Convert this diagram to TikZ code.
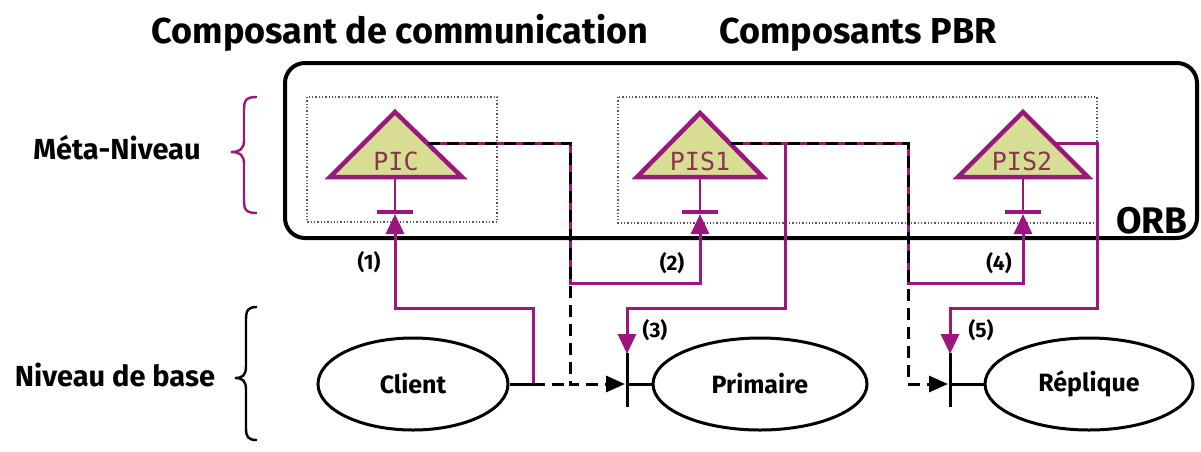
\documentclass[tikz,border=0pt]{standalone}
\usepackage{fontspec}
\setmainfont{Fira Sans}
\setmonofont{DejaVu Sans Mono}
\usetikzlibrary{shapes.geometric,arrows.meta,calc}
\definecolor{mag}{RGB}{155,22,125}
\definecolor{trifill}{RGB}{215,222,148}
\definecolor{tritext}{RGB}{135,55,75}
\tikzset{
 mg/.style={draw=mag, line width=3pt},
 bk/.style={draw=black, line width=3pt},
 dsh/.style={draw=black, line width=3pt, dash pattern=on 12pt off 7pt},
 tri/.style={draw=mag, line width=4.5pt, fill=trifill, line join=miter},
 trilabel/.style={font=\ttfamily\fontsize{25}{25}\selectfont, text=tritext, inner sep=0pt, anchor=base},
 numlbl/.style={font=\bfseries\fontsize{21}{21}\selectfont, inner sep=0pt},
 ell/.style={ellipse, draw, line width=3pt, inner sep=0pt, minimum height=92pt, font=\bfseries\fontsize{25}{25}\selectfont},
 dotbox/.style={draw=black!65, line width=1.3pt, dotted},
 mtip/.style={-{Triangle[length=20pt,width=18pt]}},
 btip/.style={-{Triangle[length=19pt,width=16pt]}},
 title/.style={font=\bfseries\fontsize{36}{36}\selectfont, inner sep=0pt, anchor=base},
 side/.style={font=\bfseries\fontsize{29}{29}\selectfont, inner sep=0pt, anchor=base},
}
\begin{document}
\begin{tikzpicture}[x=1pt,y=-1pt]
\useasboundingbox (0,0) rectangle (1201,451);
% titles
\node[title] (t1) at (400,43) {Composant de communication};
\node[title] (t2) at (858,43) {Composants PBR};
% side labels
\node[side] (meta) at (117,159) {Méta-Niveau};
\node[side] (base) at (115,386) {Niveau de base};
% braces
\draw[mag, line width=2.4pt] (257,97) .. controls (246,97) and (244,100) .. (244,110) -- (244,140) .. controls (244,149) and (240,152) .. (231,152) .. controls (240,152) and (244,155) .. (244,164) -- (244,200) .. controls (244,210) and (246,213) .. (257,213);
\draw[black, line width=2.4pt] (257,307) .. controls (248,307) and (246,310) .. (246,320) -- (246,366) .. controls (246,375) and (243,378) .. (235,378) .. controls (243,378) and (246,381) .. (246,390) -- (246,428) .. controls (246,437) and (248,440) .. (257,440);
% ORB box
\draw[line width=4pt, rounded corners=20pt] (285,63) rectangle (1197,238);
\node[font=\bfseries\fontsize{37}{37}\selectfont, inner sep=0pt, anchor=base] (orb) at (1152,233) {ORB};
% dotted boxes
\draw[dotbox] (307,97) rectangle (497,222);
\draw[dotbox] (618,97) rectangle (1097,223);
% triangles
\coordinate (PICa) at (395,112); \coordinate (PICl) at (330,177); \coordinate (PICr) at (462,177);
\coordinate (S1a) at (700,113); \coordinate (S1l) at (637,177); \coordinate (S1r) at (763,177);
\coordinate (S2a) at (1023,112); \coordinate (S2l) at (958,177); \coordinate (S2r) at (1088,177);
\path[tri] (PICa) -- (PICl) -- (PICr) -- cycle;
\path[tri] (S1a) -- (S1l) -- (S1r) -- cycle;
\path[tri] (S2a) -- (S2l) -- (S2r) -- cycle;
\node[trilabel] (pic) at (396,170) {PIC};
\node[trilabel] (pis1) at (700,170) {PIS1};
\node[trilabel] (pis2) at (1022,170) {PIS2};
% stems and bars
\coordinate (PICb) at (395,212); \coordinate (S1b) at (700,212); \coordinate (S2b) at (1023,212);
\foreach \b/\t in {PICb/PICa, S1b/S1a, S2b/S2a}{
  \draw[mag, line width=2.4pt] (\t |- PICl) -- (\b);
  \draw[mag, line width=3.4pt] ($(\b)+(-18,0)$) -- ($(\b)+(18,0)$);
}
\coordinate (PICin) at (395,214); \coordinate (S1in) at (700,214); \coordinate (S2in) at (1023,214);
% right-side exit points of the triangles
\coordinate (PICo) at (428,143); \coordinate (S1o) at (731,143); \coordinate (S2o) at (1055,143);
% ellipses
\node[ell, minimum width=190pt] (client) at (413,384) {Client};
\node[ell, minimum width=214pt] (prim) at (760,384) {Primaire};
\node[ell, minimum width=208pt] (rep) at (1089,384) {Réplique};
% bars before the servers
\coordinate (B1) at (627,384); \coordinate (B2) at (950,384);
\draw[bk] ($(B1)+(0,-31)$) -- ($(B1)+(0,23)$);
\draw[bk] ($(B2)+(0,-31)$) -- ($(B2)+(0,23)$);
\draw[bk] (B1) -- (prim.west);
\draw[bk] (B2) -- (rep.west);
\coordinate (B1top) at (627,354); \coordinate (B2top) at (950,354);
% magenta paths
\coordinate (c1) at (533,384);
\draw[mg, mtip] (c1) -- (533,308) -| (PICin);
\draw[mg, mtip] (PICo) -- (570,143) -- (570,283) -| (S1in);
\draw[mg, mtip] (S1o) -- (785,143) -- (785,308) -| (B1top);
\draw[mg, mtip] (S1o) -- (908,143) -- (908,283) -| (S2in);
\draw[mg, mtip] (S2o) -- (1097,143) -- (1097,308) -| (B2top);
% black solid + dashed paths
\draw[bk] (client.east) -- (c1);
\draw[dsh] (c1) -- (570,384);
\draw[dsh, btip] (PICo) -- (570,143) -- (570,384) -- ($(B1)+(-2,0)$);
\draw[dsh, btip] (S1o) -- (908,143) -- (908,384) -- ($(B2)+(-2,0)$);
% labels
\node[numlbl] (n1) at (369,262) {(1)};
\node[numlbl] (n2) at (672,263) {(2)};
\node[numlbl] (n3) at (655,330) {(3)};
\node[numlbl] (n4) at (999,263) {(4)};
\node[numlbl] (n5) at (981,330) {(5)};
\end{tikzpicture}
\end{document}
